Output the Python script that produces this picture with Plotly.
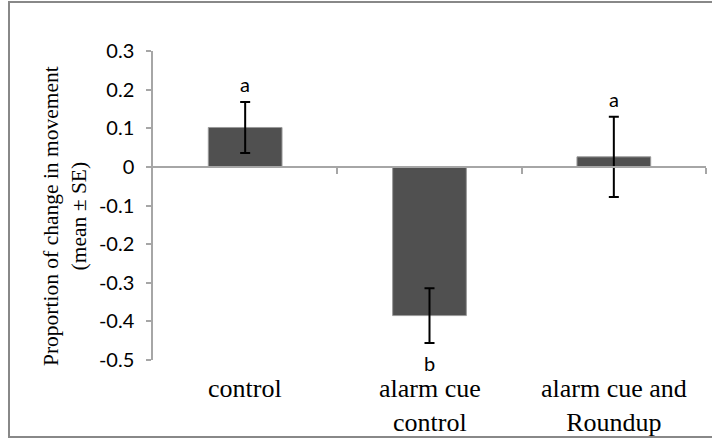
import plotly.graph_objects as go

categories = ["control", "alarm cue<br>control", "alarm cue and<br>Roundup"]
means = [0.102, -0.385, 0.026]
se = [0.066, 0.071, 0.104]
letters = ["a", "b", "a"]
ytick_vals = [0.3, 0.2, 0.1, 0.0, -0.1, -0.2, -0.3, -0.4, -0.5]
ytick_text = ["0.3", "0.2", "0.1", "0", "-0.1", "-0.2", "-0.3", "-0.4", "-0.5"]

W, H = 712, 439
L, R, T, B = 153, 6, 51, 79
pw, ph = W - L - R, H - T - B
ymin, ymax = -0.5, 0.3
xpos = list(range(1, len(categories) + 1))

fig = go.Figure()
fig.add_trace(go.Bar(
    x=xpos, y=means, width=0.4,
    marker=dict(color="#505050", line=dict(color="#9a9a9a", width=1)),
    error_y=dict(type="data", array=se, visible=True, color="black", thickness=2, width=5),
    showlegend=False,
))

grey = "#a6a6a6"
fig.update_layout(
    width=W, height=H,
    margin=dict(l=L, r=R, t=T, b=B),
    paper_bgcolor="white", plot_bgcolor="white",
    xaxis=dict(
        range=[0.5, len(categories) + 0.5],
        tickvals=[i + 0.5 for i in xpos],
        showticklabels=False,
        ticks="outside", ticklen=6, tickcolor=grey, tickwidth=1.5,
        showline=True, linecolor=grey, linewidth=1.5,
        showgrid=False, zeroline=False,
        anchor="free", position=(0 - ymin) / (ymax - ymin),
    ),
    yaxis=dict(
        range=[ymin, ymax],
        tickvals=ytick_vals, ticktext=ytick_text,
        ticks="outside", ticklen=5, tickcolor=grey, tickwidth=1.5,
        showline=True, linecolor=grey, linewidth=1.5,
        showgrid=False, zeroline=False,
        tickfont=dict(family="Lato", size=20, color="black"),
        ticklabelstandoff=8,
    ),
)

# significance letters
for x, m, s, lt in zip(xpos, means, se, letters):
    if m >= 0:
        fig.add_annotation(x=x, y=m + s, text=lt, showarrow=False, yanchor="bottom", yshift=4,
                           font=dict(family="Lato", size=20, color="black"))
    else:
        fig.add_annotation(x=x, y=m - s, text=lt, showarrow=False, yanchor="top", yshift=-6,
                           font=dict(family="Lato", size=20, color="black"))

# category labels
for x, c in zip(xpos, categories):
    fig.add_annotation(x=x, xref="x", y=-12 / ph, yref="paper", text=c, showarrow=False,
                       yanchor="top", font=dict(family="Liberation Serif", size=26, color="black"))

# y-axis title
fig.add_annotation(x=(65 - L) / pw, xref="paper", xanchor="center",
                   y=(H - B - 216) / ph, yref="paper", yanchor="middle",
                   text="Proportion of change in movement<br>(mean ± SE)", textangle=-90,
                   showarrow=False, font=dict(family="Liberation Serif", size=21.5, color="black"))

# outer frame
fig.add_shape(type="rect", xref="paper", yref="paper",
              x0=(9 - L) / pw, x1=(W + 12 - L) / pw,
              y0=(H - B - 437) / ph, y1=(H - B - 2) / ph,
              line=dict(color="#888888", width=2), fillcolor="rgba(0,0,0,0)", layer="below")

fig.write_html("out.html")
